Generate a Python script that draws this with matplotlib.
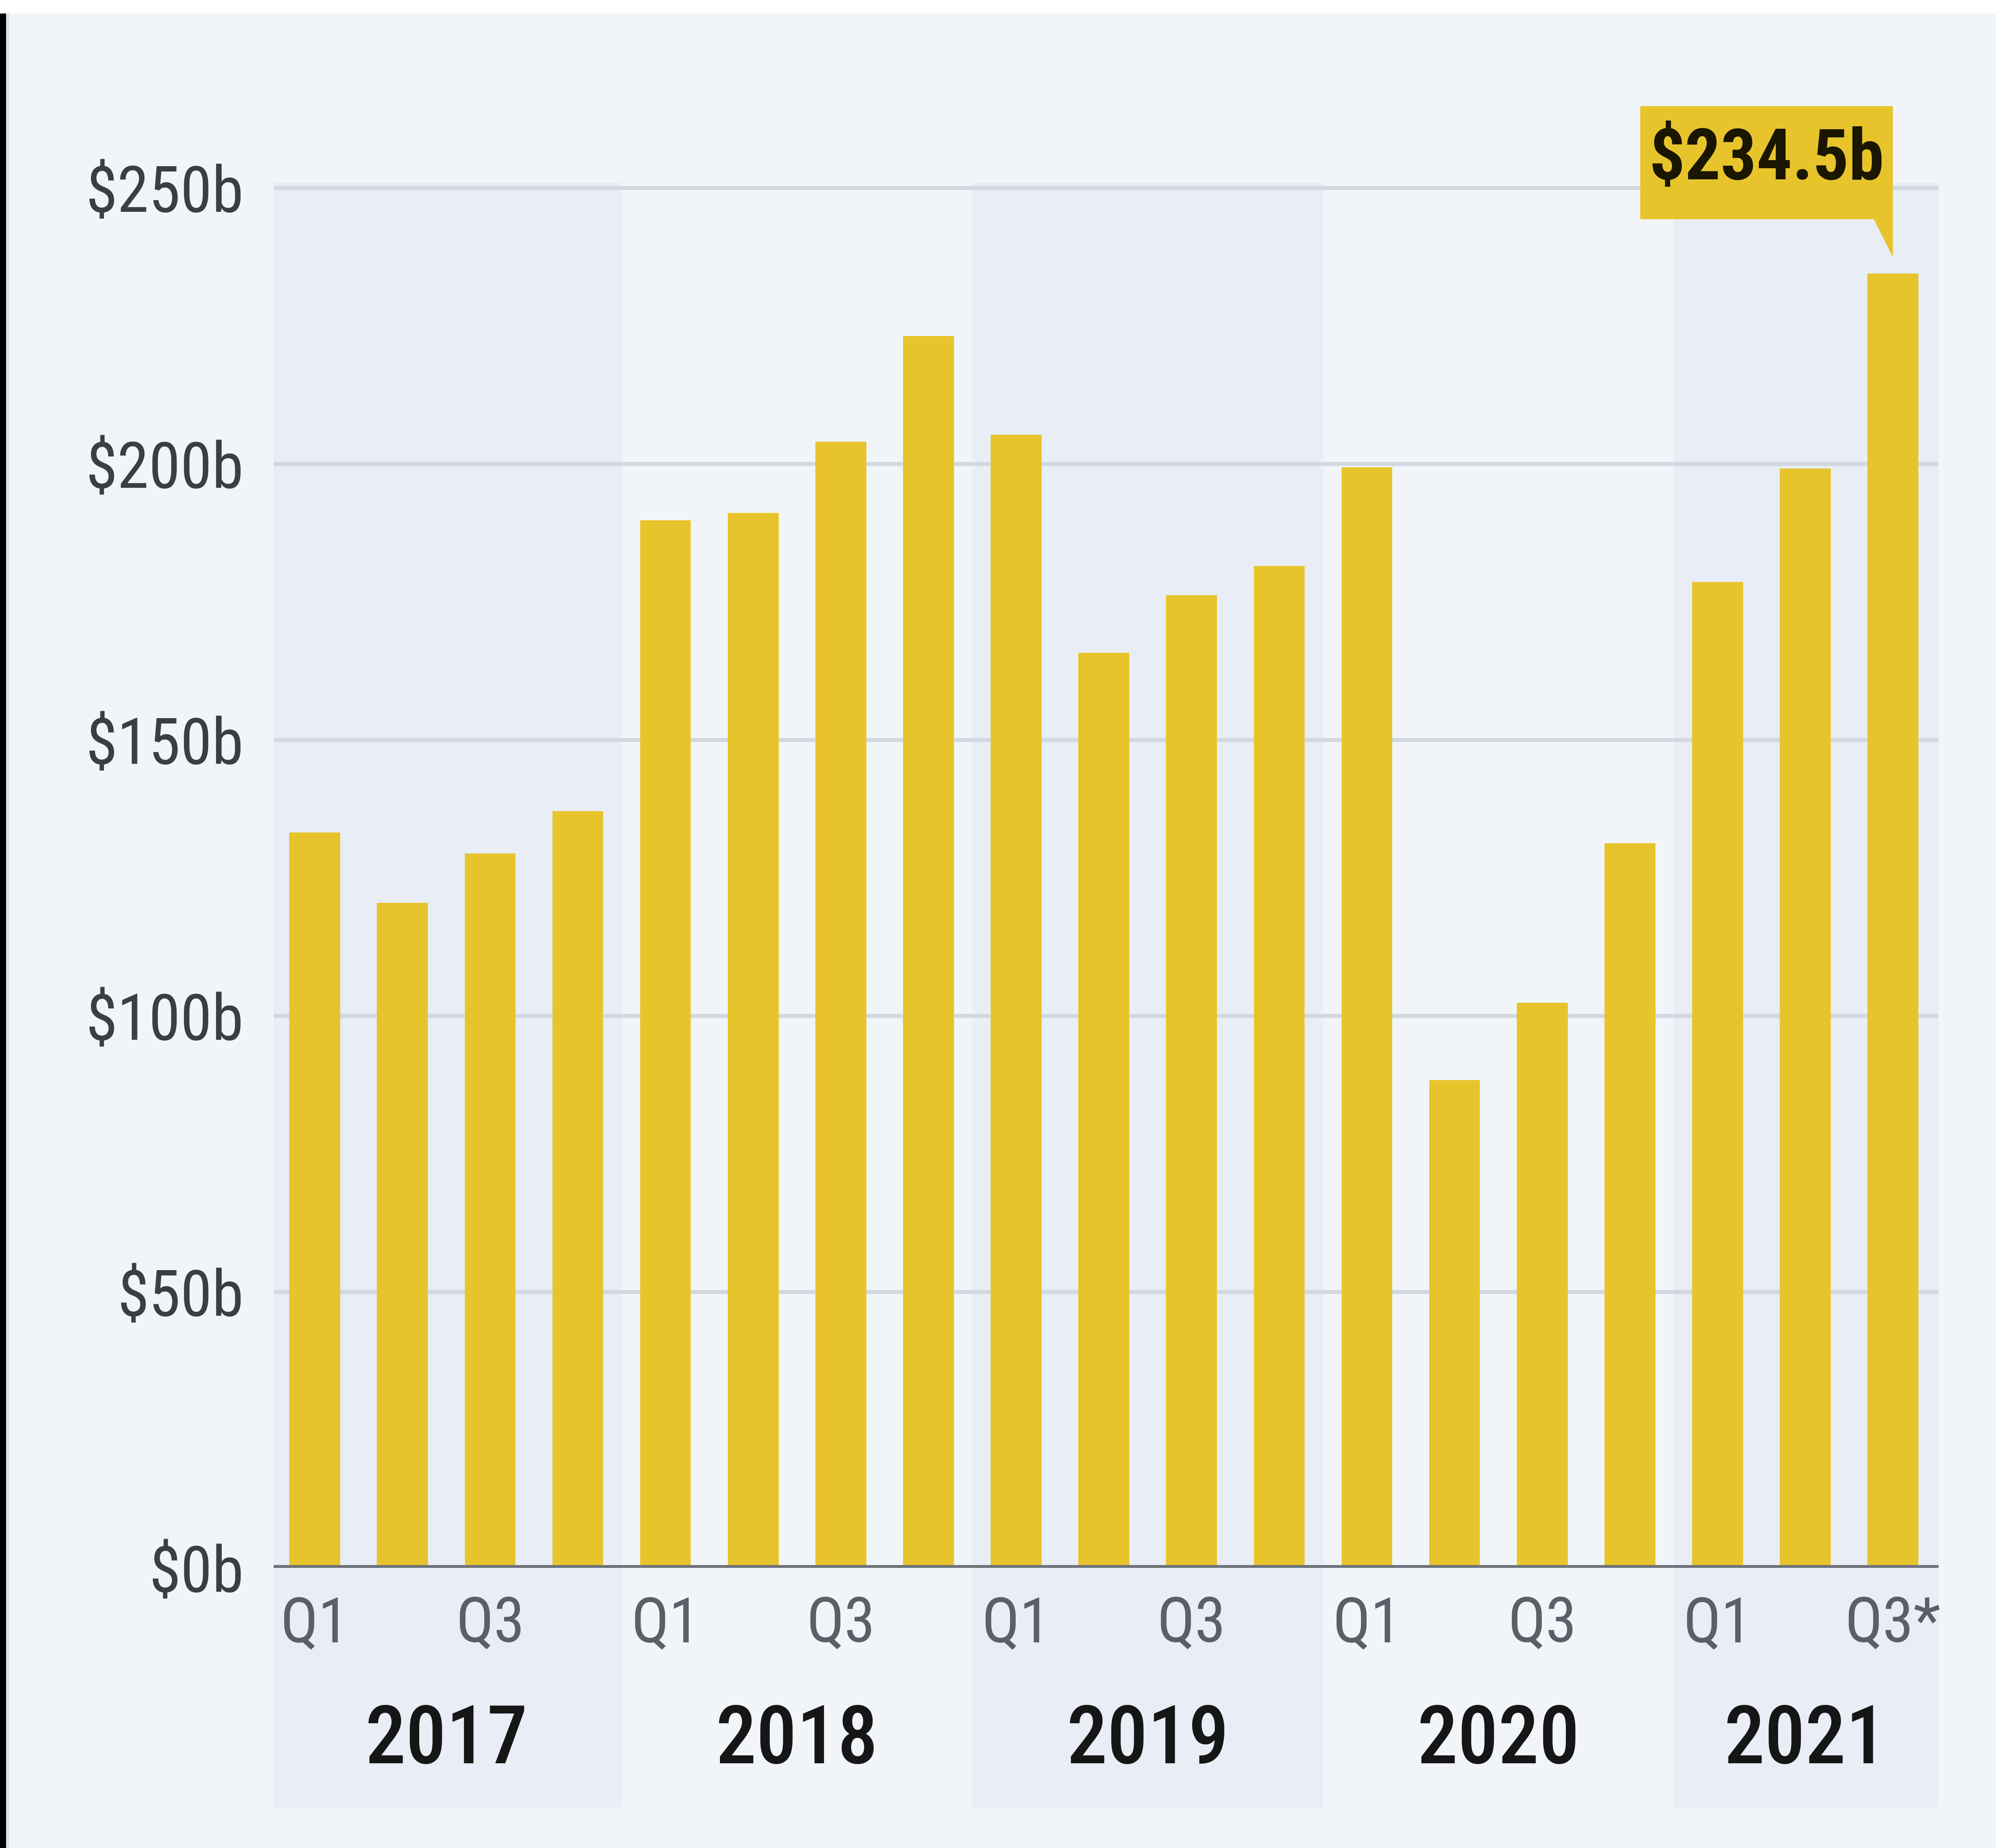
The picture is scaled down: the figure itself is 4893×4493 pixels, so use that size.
import matplotlib
matplotlib.use("Agg")
import matplotlib.pyplot as plt
from matplotlib.patches import Rectangle, Polygon
from matplotlib import font_manager as fm

# ---------------- data ----------------
quarter_labels = ["Q1", "", "Q3", "", "Q1", "", "Q3", "", "Q1", "", "Q3", "",
                  "Q1", "", "Q3", "", "Q1", "", "Q3*"]
years = ["2017", "2018", "2019", "2020", "2021"]
quarters_per_year = [4, 4, 4, 4, 3]
values = [133.2, 120.5, 129.4, 137.1,
          189.8, 191.1, 204.0, 223.2,
          205.3, 165.8, 176.2, 181.5,
          199.4, 88.4, 102.4, 131.3,
          178.6, 199.2, 234.5]
yticks = [0, 50, 100, 150, 200, 250]
ytick_labels = ["$0b", "$50b", "$100b", "$150b", "$200b", "$250b"]
callout_label = "$234.5b"

# ---------------- fonts ----------------
def pick(names):
    for n in names:
        try:
            fm.findfont(fm.FontProperties(family=n), fallback_to_default=False)
            return n
        except Exception:
            pass
    return "DejaVu Sans"

narrow = pick(["Roboto Condensed", "Liberation Sans Narrow", "DejaVu Sans Condensed",
               "Open Sans Condensed", "Liberation Sans"])
plt.rcParams["font.family"] = [narrow, "DejaVu Sans"]

# ---------------- figure ----------------
W, H = 4893, 4493
fig = plt.figure(figsize=(W / 100, H / 100), dpi=100)
fig.patch.set_facecolor("white")

PANEL = "#F1F5F9"
BAND = "#E8EDF6"
BAR = "#E8C42C"

# panel background, left border
fig.add_artist(Rectangle((20 / W, 0), (4850 - 20) / W, (H - 33) / H,
                         transform=fig.transFigure, color=PANEL, zorder=0))
fig.add_artist(Rectangle((0, 0), 15 / W, (H - 33) / H,
                         transform=fig.transFigure, color="black", zorder=1))
fig.add_artist(Rectangle((15 / W, 0), 6 / W, (H - 33) / H,
                         transform=fig.transFigure, color="#D9E6EC", zorder=1))

base_px = 3812
px_per_b = 13.42
ytop = 275
ax = fig.add_axes([665 / W, (H - base_px) / H, (4712 - 665) / W, ytop * px_per_b / H])
ax.set_facecolor("none")
ax.set_xlim(-0.47, len(values) - 1 + 0.52)
ax.set_ylim(0, ytop)
for s in ax.spines.values():
    s.set_visible(False)

x = list(range(len(values)))

# alternating year bands
start = 0
band_bottom = -43.4
band_top = 251
xl, xr = ax.get_xlim()
for i, n in enumerate(quarters_per_year):
    left = max(start - 0.5, xl) if i > 0 else xl
    right = start + n - 0.5 if i < len(quarters_per_year) - 1 else xr
    if i % 2 == 0:
        ax.add_patch(Rectangle((left, band_bottom), right - left, band_top - band_bottom,
                               color=BAND, zorder=0.2, clip_on=False, lw=0))
    ax.text(start + (n - 1) / 2, -31.4, years[i], ha="center", va="center",
            fontsize=142, fontweight="medium", color="#161616", clip_on=False)
    start += n

# grid
ax.set_yticks(yticks)
ax.set_yticklabels(ytick_labels)
ax.yaxis.grid(True, color="#D3D8E0", lw=7)
ax.set_axisbelow(True)
ax.tick_params(axis="y", length=0, pad=52, labelsize=112, labelcolor="#3A3F45")

# bars
ax.bar(x, values, width=0.58, color=BAR, zorder=2, lw=0)
ax.axhline(0, color="#6F747B", lw=10, zorder=3)

ax.set_xticks(x)
ax.set_xticklabels(quarter_labels)
ax.tick_params(axis="x", length=0, pad=48, labelsize=110, labelcolor="#596068")

# callout for last bar
xv, vv = x[-1], values[-1]
box_w = 2.88
box_bottom = vv + 9.8
box_top = vv + 30.3
ax.add_patch(Rectangle((xv - box_w, box_bottom), box_w, box_top - box_bottom,
                       color=BAR, zorder=4, lw=0, clip_on=False))
ax.add_patch(Polygon([(xv - 0.22, box_bottom + 0.1), (xv, box_bottom + 0.1), (xv, vv + 3.0)],
                     closed=True, color=BAR, zorder=4, lw=0, clip_on=False))
ax.text(xv - box_w / 2, vv + 20.6, callout_label, ha="center", va="center",
        fontsize=124, fontweight="bold", color="#1A1600", zorder=5)

fig.savefig("out.png", dpi=100, facecolor=fig.get_facecolor())
